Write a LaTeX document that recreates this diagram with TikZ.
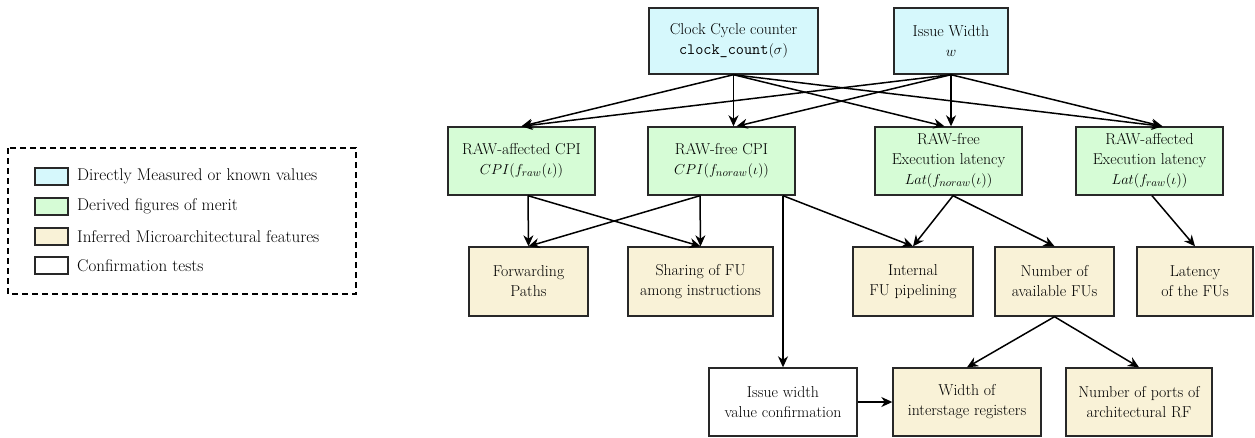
\documentclass[tikz,border=0pt]{standalone}
\usepackage{fontspec}
\usetikzlibrary{arrows.meta,calc}
\definecolor{measc}{RGB}{214,248,252}
\definecolor{derc}{RGB}{214,252,214}
\definecolor{infc}{RGB}{249,242,215}
\definecolor{edgec}{RGB}{40,40,40}
\begin{document}
\begin{tikzpicture}[x=1pt,y=-1pt,
  every node/.style={font=\fontsize{15.8}{20}\selectfont},
  boxbase/.style={draw=edgec,line width=1.4pt,align=center,inner sep=0pt,minimum height=67pt},
  measbox/.style={boxbase,fill=measc},
  derbox/.style={boxbase,fill=derc},
  infbox/.style={boxbase,fill=infc},
  confbox/.style={boxbase,fill=white},
  arr/.style={line width=1.5pt,-{Stealth[length=11pt,width=10pt,inset=3.5pt]}},
  legsq/.style={draw=edgec,line width=1.4pt,minimum width=33pt,minimum height=17pt,inner sep=0pt},
  legtxt/.style={anchor=west,inner sep=0pt,font=\fontsize{17}{20}\selectfont}
]
\useasboundingbox (0,0) rectangle (1255,437);

% legend
\draw[line width=1.2pt,dash pattern=on 6pt off 4pt] (8,148) rectangle (356,294);
\node[legsq,fill=measc] (l1) at (51.5,176.5) {};
\node[legsq,fill=derc] (l2) at (51.5,206.5) {};
\node[legsq,fill=infc] (l3) at (51.5,236.5) {};
\node[legsq,fill=white] (l4) at (51.5,265.5) {};
\node[legtxt] (t1) at (77,176.5) {Directly Measured or known values};
\node[legtxt] (t2) at (77,206.5) {Derived figures of merit};
\node[legtxt] (t3) at (77,236.5) {Inferred Microarchitectural features};
\node[legtxt] (t4) at (77,265.5) {Confirmation tests};

% top row
\node[measbox,minimum width=169pt,minimum height=66pt] (clock) at (733.5,41) {Clock Cycle counter\\\texttt{clock\_count}$(\sigma)$};
\node[measbox,minimum width=114pt,minimum height=66pt] (issue) at (951,41) {Issue Width\\$w$};

% derived row
\node[derbox,minimum width=147pt,minimum height=68pt] (rawcpi) at (521.5,161) {RAW-affected CPI\\$CPI(f_{raw}(\iota))$};
\node[derbox,minimum width=147pt,minimum height=68pt] (freecpi) at (721.5,161) {RAW-free CPI\\$CPI(f_{noraw}(\iota))$};
\node[derbox,minimum width=147pt,minimum height=68pt] (freeexec) at (948.5,161) {RAW-free\\Execution latency\\$Lat(f_{noraw}(\iota))$};
\node[derbox,minimum width=147pt,minimum height=68pt] (affexec) at (1149.5,161) {RAW-affected\\Execution latency\\$Lat(f_{raw}(\iota))$};

% inferred row
\node[infbox,minimum width=119pt,minimum height=69pt] (fwd) at (528.5,281.5) {Forwarding\\Paths};
\node[infbox,minimum width=145pt,minimum height=69pt] (share) at (700.5,281.5) {Sharing of FU\\among instructions};
\node[infbox,minimum width=120pt,minimum height=69pt] (internal) at (913,281.5) {Internal\\FU pipelining};
\node[infbox,minimum width=119pt,minimum height=69pt] (number) at (1054.5,281.5) {Number of\\available FUs};
\node[infbox,minimum width=116pt,minimum height=69pt] (latency) at (1195,281.5) {Latency\\of the FUs};

% bottom row
\node[confbox,minimum width=148pt,minimum height=68pt] (confirm) at (783,402) {Issue width\\value confirmation};
\node[infbox,minimum width=148pt,minimum height=68pt] (width) at (967,402) {Width of\\interstage registers};
\node[infbox,minimum width=146pt,minimum height=68pt] (ports) at (1139,402) {Number of ports of\\architectural RF};

% edges from top row
\draw[arr] (clock.south) -- (rawcpi.north);
\draw[arr] (clock.south) -- (clock.south |- freecpi.north);
\draw[arr] (clock.south) -- ($(freeexec.north)+(-4,0)$);
\draw[arr] (clock.south) -- ($(affexec.north)+(13,0)$);
\draw[arr] (issue.south) -- (rawcpi.north);
\draw[arr] (issue.south) -- ($(freecpi.north)+(15,0)$);
\draw[arr] (issue.south) -- (issue.south |- freeexec.north);
\draw[arr] (issue.south) -- ($(affexec.north)+(13,0)$);

% edges from derived row
\draw[arr] ($(rawcpi.south)+(6.5,0)$) -- (fwd.north);
\draw[arr] ($(rawcpi.south)+(6.5,0)$) -- (share.north);
\draw[arr] ($(freecpi.south)+(-21.5,0)$) -- (fwd.north);
\draw[arr] ($(freecpi.south)+(-21.5,0)$) -- (share.north);
\draw[arr] (confirm.north |- freecpi.south) -- (confirm.north);
\draw[arr] (confirm.north |- freecpi.south) -- (internal.north);
\draw[arr] ($(freeexec.south)+(4.5,0)$) -- (internal.north);
\draw[arr] ($(freeexec.south)+(4.5,0)$) -- (number.north);
\draw[arr] ($(affexec.south)+(2.5,0)$) -- (latency.north);

% edges from inferred row
\draw[arr] (number.south) -- (width.north);
\draw[arr] (number.south) -- (ports.north);
\draw[arr] (confirm.east) -- (width.west);
\end{tikzpicture}
\end{document}
